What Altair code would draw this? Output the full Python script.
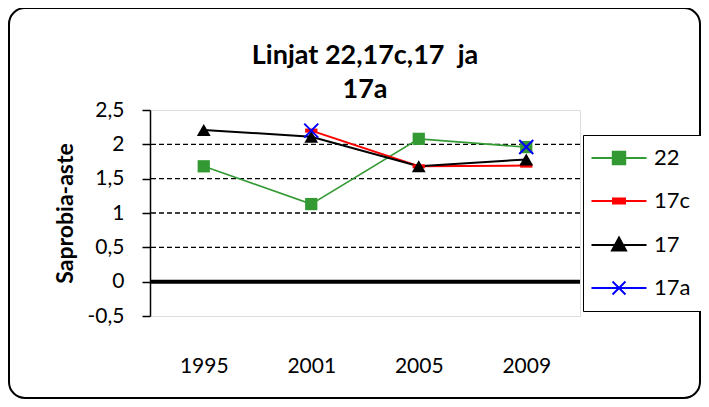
import altair as alt
import pandas as pd

years = ["1995", "2001", "2005", "2009"]
series_names = ["22", "17c", "17", "17a"]
s22 = [1.68, 1.13, 2.08, 1.96]
s17c = [None, 2.20, 1.68, 1.69]
s17 = [2.21, 2.11, 1.68, 1.78]
s17a = [None, 2.20, None, 1.96]
colors = ["#339933", "#ff0000", "#000000", "#0000ff"]
grid_values = [0.5, 1.0, 1.5, 2.0]
zero_value = [0.0]
y_ticks = [-0.5, 0, 0.5, 1, 1.5, 2, 2.5]
title_lines = ["Linjat 22,17c,17\u00a0\u00a0ja", "17a"]

rows = []
for name, vals in zip(series_names, [s22, s17c, s17, s17a]):
    for yr, v in zip(years, vals):
        rows.append({"year": yr, "series": name, "value": v})
df = pd.DataFrame(rows)

FONT = "Lato"

xaxis = alt.Axis(title=None, domain=False, ticks=False, grid=False,
                 labelAngle=0, labelPadding=39, labelFontSize=21,
                 labelFont=FONT, labelColor="black", zindex=1)
xenc = alt.X("year:O", scale=alt.Scale(domain=years, padding=0.5), axis=xaxis)
yscale = alt.Scale(domain=[-0.5, 2.5], nice=False, zero=False)
yaxis = alt.Axis(values=y_ticks, title="Saprobia-aste",
                 labelExpr="replace(toString(datum.value), '.', ',')",
                 labelOverlap=False, labelFlush=False,
                 labelFontSize=21, labelFont=FONT, labelColor="black",
                 labelPadding=18,
                 titleFont=FONT, titleFontSize=23, titleFontWeight="bold",
                 titleColor="black", titlePadding=10,
                 domainColor="black", domainWidth=1.5,
                 tickColor="black", tickSize=8, tickWidth=1.5, grid=False,
                 zindex=1)
yenc = alt.Y("value:Q", scale=yscale, axis=yaxis)

border = alt.Chart(alt.Data(values=[{}])).mark_rect(
    filled=False, fillOpacity=0, stroke="black", strokeWidth=2, cornerRadius=16
).encode(x=alt.value(-141), x2=alt.value(550), y=alt.value(-102), y2=alt.value(288))

title = alt.Chart(alt.Data(values=[{}])).mark_text(
    font=FONT, fontSize=27, fontWeight="bold", color="black",
    align="center", baseline="alphabetic", lineHeight=34
).encode(x=alt.value(215), y=alt.value(-46), text=alt.value(title_lines))

grid = alt.Chart(pd.DataFrame({"value": grid_values})).mark_rule(
    color="black", strokeDash=[5, 3], strokeWidth=1.3
).encode(y=yenc)

zero = alt.Chart(pd.DataFrame({"value": zero_value})).mark_rule(
    color="black", strokeWidth=4
).encode(y=yenc)

base = alt.Chart(df)

line_widths = {"22": 1.6, "17c": 2, "17": 2, "17a": 2}
shapes = {
    "22": dict(shape="square", filled=True, size=150),
    "17c": dict(shape="M-1,-0.33H1V0.33H-1Z", filled=True, size=150),
    "17": dict(shape="triangle-up", filled=True, size=190),
    "17a": dict(shape="M-1,-1L1,1M-1,1L1,-1", filled=False, size=196, strokeWidth=2),
}
line_layers = []
point_layers = []
for name, col in zip(series_names, colors):
    sub = base.transform_filter(alt.datum.series == name)
    line_layers.append(
        sub.mark_line(color=col, strokeWidth=line_widths[name],
                      invalid="break-paths-show-domains").encode(x=xenc, y=yenc)
    )
    point_layers.append(
        sub.mark_point(color=col, opacity=1, **shapes[name]).encode(x=xenc, y=yenc)
    )

legend_paths = [
    "M-2.75,0H2.75M-0.62,-0.62H0.62V0.62H-0.62Z",
    "M-2.75,0H2.75M-0.6,-0.25H0.6V0.25H-0.6Z",
    "M-2.75,0H2.75M0,-0.75L0.7,0.55H-0.7Z",
    "M-2.75,0H2.75M-0.65,-0.65L0.65,0.65M-0.65,0.65L0.65,-0.65",
]
leg = alt.Legend(title=None, orient="none", legendX=433, legendY=25,
                 strokeColor="black", fillColor="white", padding=12,
                 labelFontSize=22, labelFont=FONT, labelColor="black",
                 symbolSize=400, symbolStrokeWidth=2, symbolOffset=13,
                 symbolOpacity=1, labelOffset=24, rowPadding=21)
legend_layer = base.transform_filter("datum.value > 100").mark_point(opacity=1).encode(
    x=xenc, y=yenc,
    shape=alt.Shape("series:N", scale=alt.Scale(domain=series_names, range=legend_paths), legend=leg),
    fill=alt.Fill("series:N", scale=alt.Scale(domain=series_names, range=colors), legend=leg),
    stroke=alt.Stroke("series:N", scale=alt.Scale(domain=series_names, range=colors), legend=leg),
)

chart = alt.layer(border, title, grid, zero, *line_layers, *point_layers, legend_layer).properties(
    width=430, height=206,
    autosize=alt.AutoSizeParams(type="none"),
    padding={"left": 142, "top": 102, "right": 121, "bottom": 83},
).configure_view(stroke="#9a9a9a", strokeWidth=1.5).configure(background="white")

chart.save("out.html", embed_options={"renderer": "svg", "actions": False})
